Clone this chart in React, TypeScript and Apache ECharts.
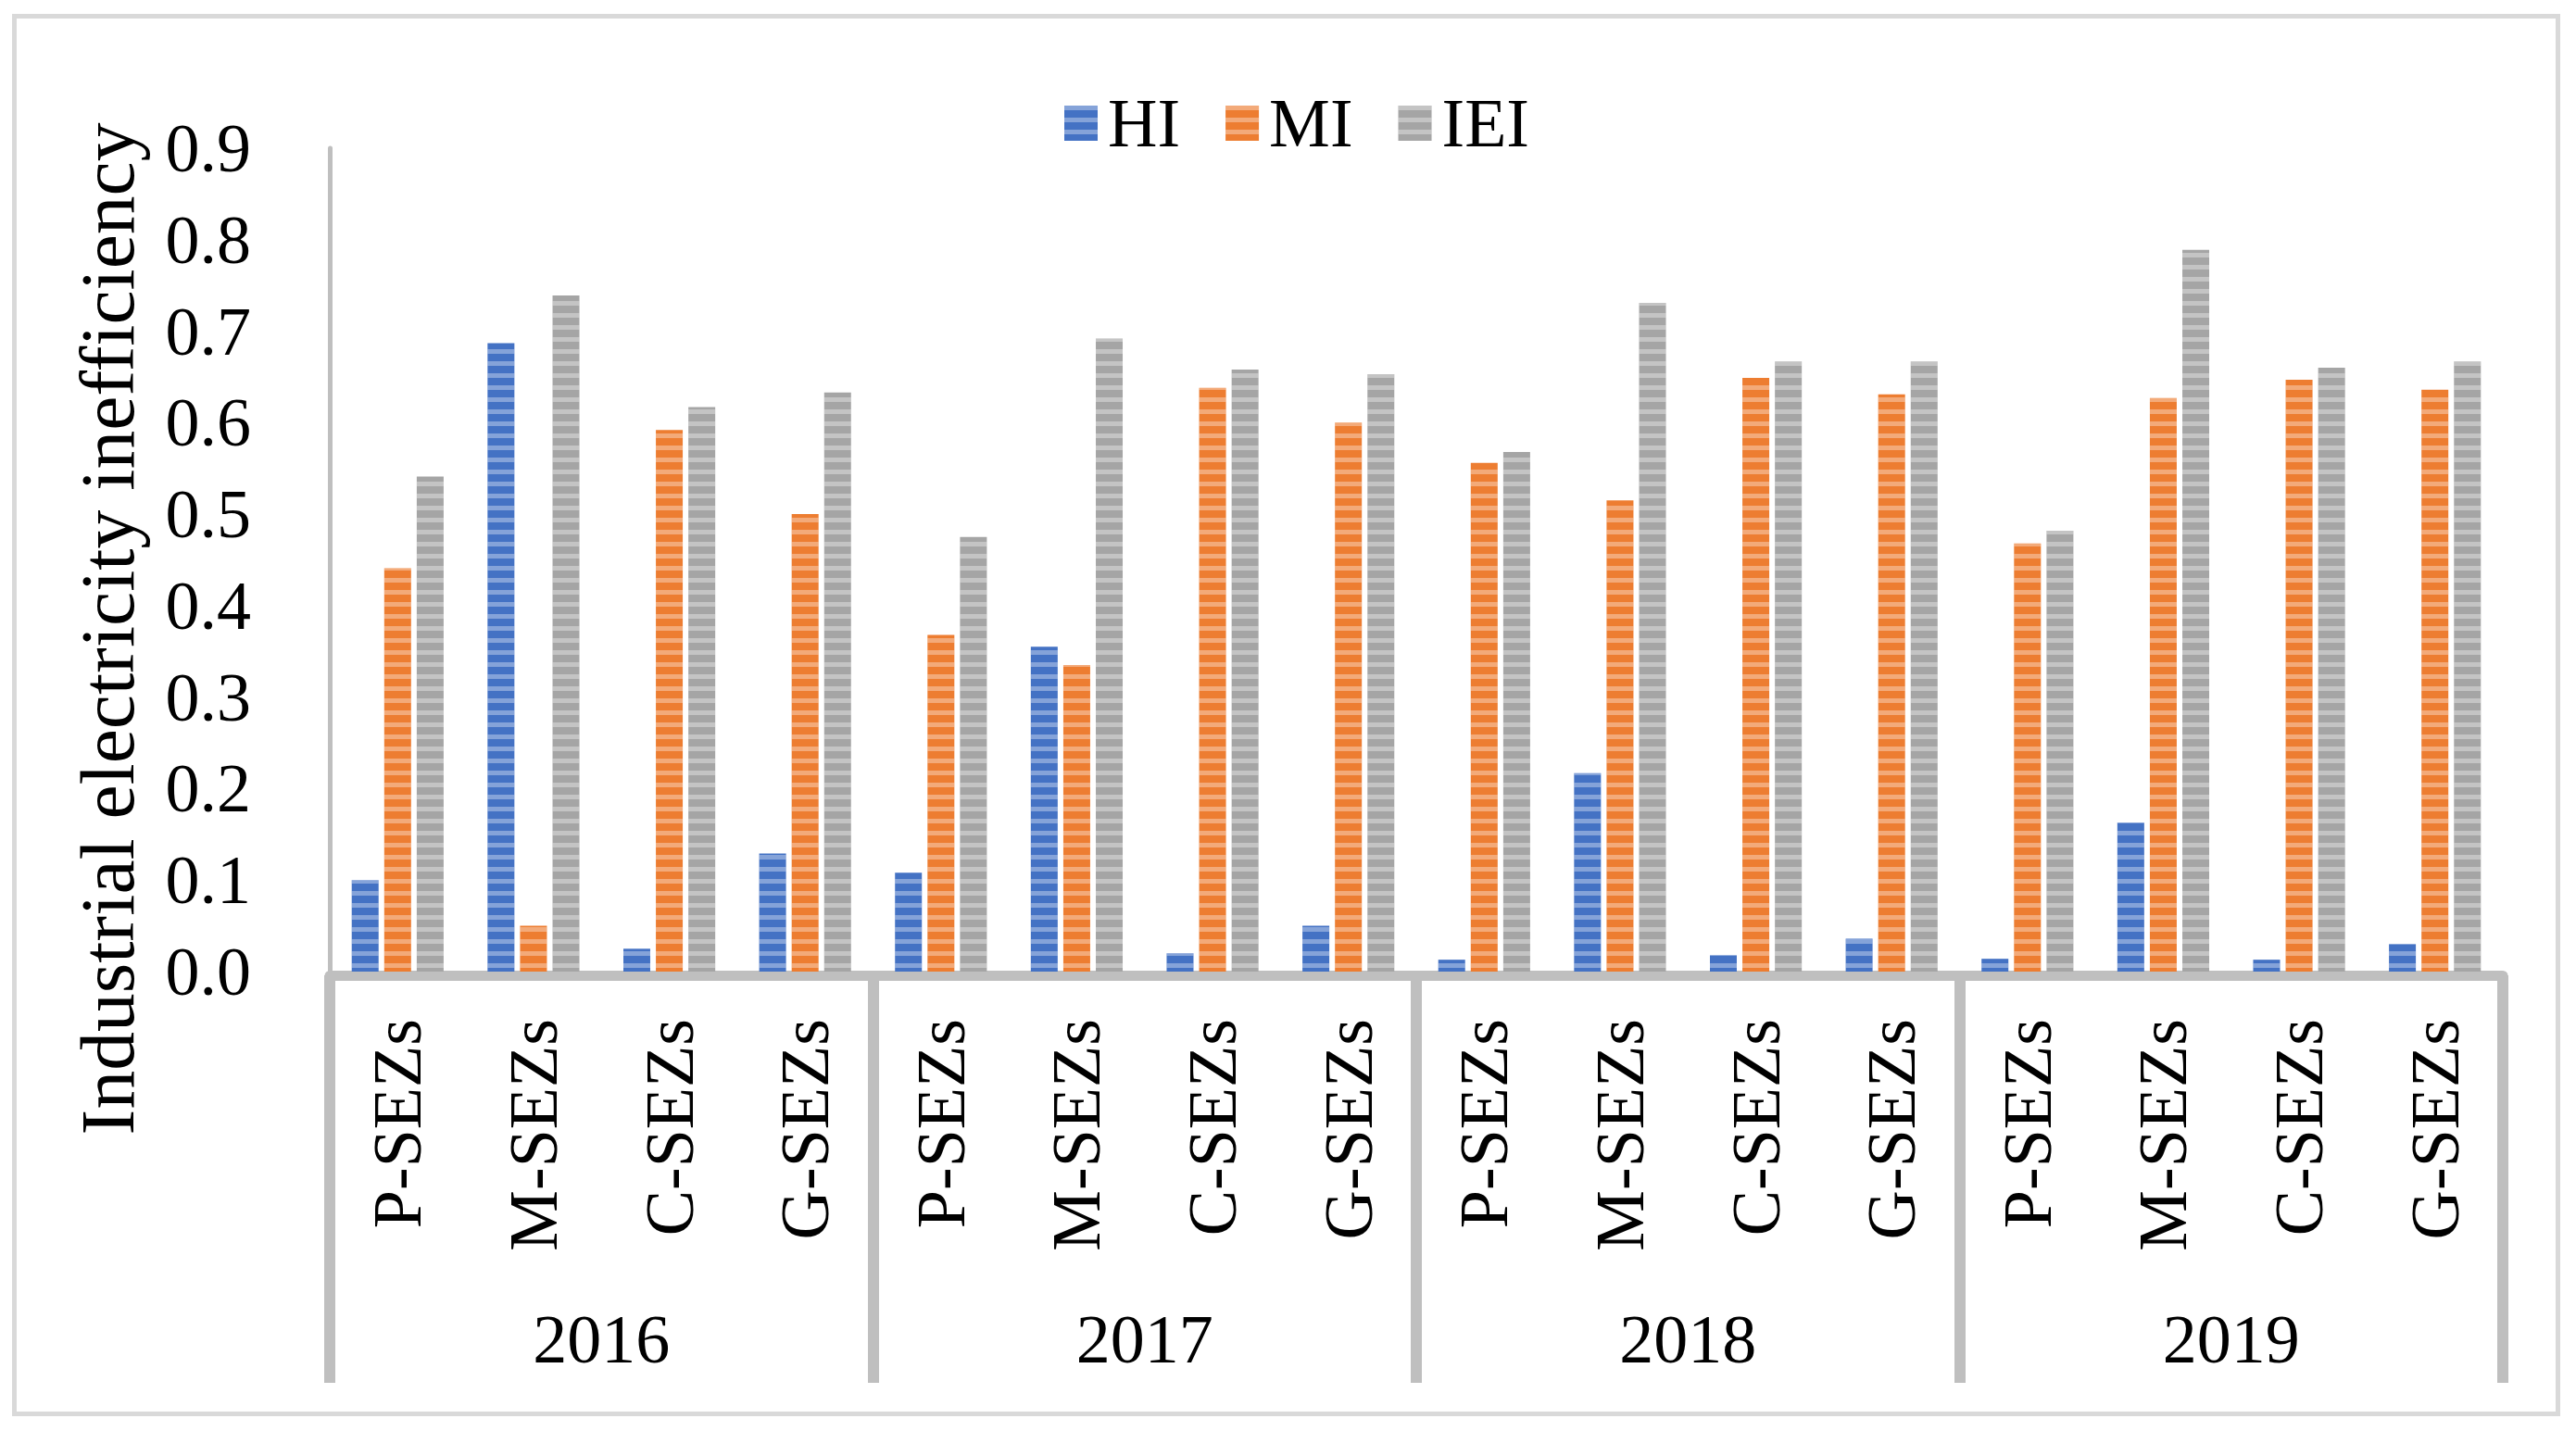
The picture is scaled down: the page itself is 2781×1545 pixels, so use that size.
import React, { useEffect, useRef } from "react";
import * as echarts from "echarts";

const years = ["2016", "2017", "2018", "2019"];
const zones = ["P-SEZs", "M-SEZs", "C-SEZs", "G-SEZs"];
const seriesNames = ["HI", "MI", "IEI"];
const hiValues = [0.1, 0.687, 0.025, 0.129, 0.108, 0.355, 0.02, 0.05, 0.013, 0.217, 0.018, 0.036, 0.014, 0.163, 0.013, 0.03];
const miValues = [0.441, 0.05, 0.592, 0.5, 0.368, 0.335, 0.638, 0.6, 0.556, 0.515, 0.649, 0.631, 0.468, 0.627, 0.647, 0.636];
const ieiValues = [0.541, 0.739, 0.617, 0.633, 0.475, 0.692, 0.658, 0.653, 0.568, 0.731, 0.667, 0.667, 0.482, 0.789, 0.66, 0.667];
const yMin = 0;
const yMax = 0.9;
const yStep = 0.1;
const yAxisTitle = "Industrial electricity inefficiency";

const FONT = "'Liberation Serif', 'Times New Roman', serif";
const W = 2781;
const H = 1545;
const GRAY = "#bfbfbf";

export default function App() {
  const ref = useRef<HTMLDivElement>(null);
  useEffect(() => {
    document.body.style.margin = "0";
    if (!ref.current) return;
    const chart = echarts.init(ref.current, undefined, { renderer: "svg" });
    const categories: string[] = [];
    years.forEach(() => zones.forEach((z) => categories.push(z)));
    const colors = ["#4472C4", "#ED7D31", "#A5A5A5"];
    const data = [hiValues, miValues, ieiValues];
    const decal = {
      symbol: "rect",
      symbolSize: 1,
      dashArrayX: [20, 0],
      dashArrayY: [5, 7.5],
      rotation: 0,
      color: "rgba(255,255,255,0.35)",
    };
    chart.setOption({
      animation: false,
      backgroundColor: "#ffffff",
      textStyle: { fontFamily: FONT, color: "#000" },
      legend: {
        data: seriesNames,
        left: 1144,
        top: 91,
        itemWidth: 36,
        itemHeight: 38,
        itemGap: 49,
        icon: "rect",
        textStyle: { fontFamily: FONT, fontSize: 74, color: "#000", lineHeight: 74, padding: [0, 0, 0, 6] },
      },
      grid: { left: 356, right: 79, top: 160, bottom: 496, containLabel: false },
      xAxis: [
        {
          type: "category",
          data: categories,
          position: "bottom",
          axisLine: { show: false },
          axisTick: { show: false },
          axisLabel: {
            interval: 0,
            rotate: 90,
            margin: 51,
            fontSize: 74,
            fontFamily: FONT,
            color: "#000",
          },
        },
        {
          type: "category",
          data: years,
          position: "bottom",
          offset: 4,
          axisLine: { show: true, lineStyle: { color: GRAY, width: 11 } },
          axisTick: { show: true, interval: 0, length: 440, lineStyle: { color: GRAY, width: 12 } },
          axisLabel: { interval: 0, margin: 356, fontSize: 74, fontFamily: FONT, color: "#000" },
          splitLine: { show: false },
        },
      ],
      yAxis: {
        type: "value",
        min: yMin,
        max: yMax,
        interval: yStep,
        axisLine: { show: true, lineStyle: { color: GRAY, width: 5 } },
        axisTick: { show: false },
        splitLine: { show: false },
        axisLabel: {
          margin: 85,
          fontSize: 74,
          fontFamily: FONT,
          color: "#000",
          formatter: (v: number) => v.toFixed(1),
        },
      },
      series: seriesNames.map((name, i) => ({
        name,
        type: "bar",
        xAxisIndex: 0,
        data: data[i],
        barWidth: 29,
        barGap: "21%",
        itemStyle: { color: colors[i], decal },
      })),
      graphic: [
        {
          type: "rect",
          shape: { x: 15.5, y: 17.5, width: 2746, height: 1509 },
          style: { fill: "none", stroke: "#d9d9d9", lineWidth: 5 },
          silent: true,
        },
        {
          type: "text",
          x: 116,
          y: 679,
          rotation: Math.PI / 2,
          style: {
            text: yAxisTitle,
            fontFamily: FONT,
            fontSize: 83.5,
            fill: "#000",
            align: "center",
            verticalAlign: "middle",
          },
          silent: true,
        },
      ],
    });
    return () => chart.dispose();
  }, []);
  return <div ref={ref} style={{ position: "fixed", left: 0, top: 0, width: W, height: H }} />;
}
